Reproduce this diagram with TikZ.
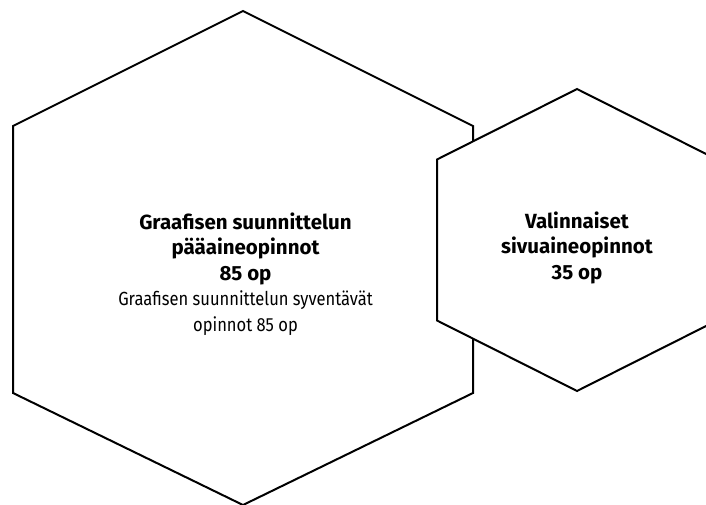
\documentclass[tikz,border=0pt]{standalone}
\usepackage{fontspec}
\setmainfont{Fira Sans}
\newfontfamily\regfont{Fira Sans}[FakeStretch=0.87]
\newcommand{\bigbf}[1]{{\fontsize{20.5}{25.5}\selectfont\bfseries #1}}
\newcommand{\reg}[1]{{\regfont\fontsize{19}{25.5}\selectfont #1}}
\begin{document}
\begin{tikzpicture}[x=1pt,y=-1pt,
  hexa/.style={draw=black,line width=2pt,line join=miter,fill=white},
  lbl/.style={align=center,font=\fontsize{19}{25.5}\selectfont,inner sep=0pt}]
\useasboundingbox (0,0) rectangle (706,505);
\begin{scope}
\clip (0,0) rectangle (706,505);
\draw[hexa] (243,11) -- (473,126) -- (473,393) -- (243,505) -- (13,393) -- (13,126) -- cycle;
\draw[hexa] (577,89) -- (717,159.5) -- (717,320.5) -- (577,391) -- (437,320.5) -- (437,159.5) -- cycle;
\end{scope}
\node[lbl,anchor=base] (main) at (245.5,331) {\bigbf{Graafisen suunnittelun}\\\bigbf{pääaineopinnot}\\\bigbf{85 op}\\\reg{Graafisen suunnittelun syventävät}\\\reg{opinnot 85 op}};
\node[lbl,anchor=base] (side) at (577,279) {\bigbf{Valinnaiset}\\\bigbf{sivuaineopinnot}\\\bigbf{35 op}};
\end{tikzpicture}
\end{document}
